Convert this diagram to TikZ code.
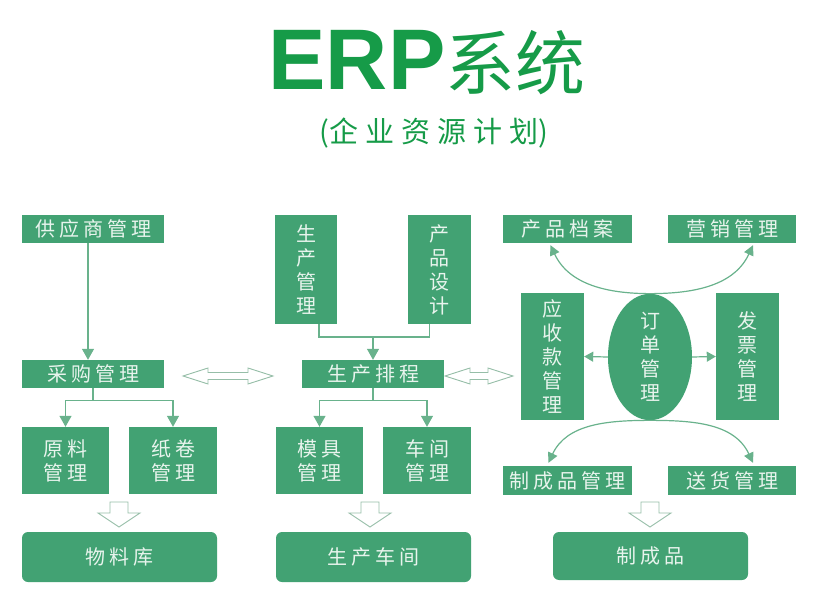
\documentclass[tikz,border=0pt]{standalone}
\usepackage{fontspec}
\usetikzlibrary{arrows.meta,shapes.geometric}
\newfontfamily\cjk{Noto Sans CJK SC}
\newfontfamily\cjkwide[LetterSpace=20]{Noto Sans CJK SC}
\newfontfamily\latinbold{Liberation Sans}
\definecolor{boxgreen}{RGB}{66,162,115}
\definecolor{linegreen}{RGB}{105,178,140}
\definecolor{titlegreen}{RGB}{22,155,72}
\definecolor{boxtext}{RGB}{232,244,237}
\definecolor{hollowline}{RGB}{150,190,168}
\tikzset{
  box/.style={fill=boxgreen, text=boxtext, inner sep=0pt, font=\cjkwide\fontsize{20}{24}\selectfont},
  vbox/.style={box, align=center, font=\cjk\fontsize{20}{24}\selectfont},
  store/.style={box, rounded corners=6pt},
  line/.style={draw=linegreen, line width=1.2pt},
  arr/.style={line, -{Triangle[length=11pt,width=12pt]}},
  sarr/.style={line, -{Triangle[length=9pt,width=10pt]}},
  carr/.style={line, -{Triangle[length=10pt,width=10pt]}},
  hollow/.style={draw=hollowline, fill=white, line width=0.9pt, line join=miter}
}
% hollow double arrow: left tip, right tip x, y
\newcommand\hollowdbl[3]{
  \draw[hollow] (#1,#3) -- (#1+25,#3-8) -- (#1+25,#3-3.5) -- (#2-25,#3-3.5) -- (#2-25,#3-8)
    -- (#2,#3) -- (#2-25,#3+8) -- (#2-25,#3+3.5) -- (#1+25,#3+3.5) -- (#1+25,#3+8) -- cycle;
}
% hollow down arrow: centre x, top y
\newcommand\hollowdown[2]{
  \draw[hollow] (#1-9,#2) -- (#1+9,#2) -- (#1+9,#2+11) -- (#1+21,#2+11) -- (#1,#2+25)
    -- (#1-21,#2+11) -- (#1-9,#2+11) -- cycle;
}

\begin{document}
\begin{tikzpicture}[x=1pt,y=-1pt]
  \useasboundingbox (0,0) rectangle (820,607);

  % title
  \node[text=titlegreen, anchor=base, inner sep=0pt] (title) at (427,90)
    {{\latinbold\fontsize{86}{86}\selectfont\bfseries ERP}{\cjk\fontsize{70}{70}\selectfont 系统}};
  \node[text=titlegreen, inner sep=0pt] (subtitle) at (434,133)
    {\cjk\fontsize{29}{32}\selectfont (\addfontfeature{LetterSpace=24}企业资源计划\addfontfeature{LetterSpace=0})};

  % left column
  \node[box, minimum width=142pt, minimum height=28pt] (supplier) at (93,229) {供应商管理};
  \node[box, minimum width=142pt, minimum height=28pt] (purchase) at (93,374) {采购管理};
  \node[box, align=center, minimum width=87pt, minimum height=67pt] (raw) at (65.5,460.5) {原料\\管理};
  \node[box, align=center, minimum width=88pt, minimum height=67pt] (paper) at (173,460.5) {纸卷\\管理};
  \node[store, minimum width=195pt, minimum height=50pt] (warehouse) at (119.5,557) {物料库};

  % middle column
  \node[vbox, minimum width=62pt, minimum height=109pt] (prodmgmt) at (306,269.5) {生\\产\\管\\理};
  \node[vbox, minimum width=63pt, minimum height=109pt] (design) at (439.5,269.5) {产\\品\\设\\计};
  \node[box, minimum width=142pt, minimum height=28pt] (schedule) at (373,374) {生产排程};
  \node[box, align=center, minimum width=87pt, minimum height=67pt] (mould) at (319.5,460.5) {模具\\管理};
  \node[box, align=center, minimum width=88pt, minimum height=67pt] (workshop) at (427,460.5) {车间\\管理};
  \node[store, minimum width=195pt, minimum height=50pt] (plant) at (373.5,557) {生产车间};

  % right column
  \node[box, minimum width=129pt, minimum height=28pt] (archive) at (567.5,229) {产品档案};
  \node[box, minimum width=128pt, minimum height=28pt] (marketing) at (732,229) {营销管理};
  \node[vbox, minimum width=63pt, minimum height=127pt] (receivable) at (552.5,356.5) {应\\收\\款\\管\\理};
  \node[vbox, ellipse, minimum width=84pt, minimum height=126pt] (order) at (650,357) {订\\单\\管\\理};
  \node[vbox, minimum width=63pt, minimum height=127pt] (invoice) at (747.5,356.5) {发\\票\\管\\理};
  \node[box, minimum width=129pt, minimum height=29pt] (finished) at (567.5,480.5) {制成品管理};
  \node[box, minimum width=128pt, minimum height=29pt] (delivery) at (732,480.5) {送货管理};
  \node[store, minimum width=195pt, minimum height=48pt] (product) at (650.5,556) {制成品};

  % connectors, left
  \draw[arr] ([xshift=-5pt]supplier.south) -- ([xshift=-5pt]purchase.north);
  \draw[line] (purchase.south) -- ++(0,12) coordinate (pb);
  \draw[arr] (pb) -| (raw.north);
  \draw[arr] (pb) -| (paper.north);

  % connectors, middle
  \coordinate (pj) at (373,337);
  \draw[line] ([xshift=13pt]prodmgmt.south) |- (pj) -| ([xshift=-10pt]design.south);
  \draw[arr] (pj) -- (schedule.north);
  \draw[line] (schedule.south) -- ++(0,12) coordinate (sb);
  \draw[arr] (sb) -| (mould.north);
  \draw[arr] (sb) -| (workshop.north);

  % connectors, right
  \draw[sarr] (order.west) -- (receivable.east);
  \draw[sarr] (order.east) -- (invoice.west);
  \draw[carr] (order.north) to[out=180, in=-65] ([xshift=-17pt, yshift=-2pt]archive.south);
  \draw[carr] (order.north) to[out=0, in=-115] ([xshift=21pt, yshift=-2pt]marketing.south);
  \draw[carr] (order.south) to[out=180, in=65] ([xshift=-19pt, yshift=3pt]finished.north);
  \draw[carr] (order.south) to[out=0, in=115] ([xshift=21pt, yshift=3pt]delivery.north);

  % hollow arrows
  \hollowdbl{183}{273}{376}
  \hollowdbl{445}{513}{376}
  \hollowdown{119}{502}
  \hollowdown{370}{502}
  \hollowdown{650}{502}
\end{tikzpicture}
\end{document}
